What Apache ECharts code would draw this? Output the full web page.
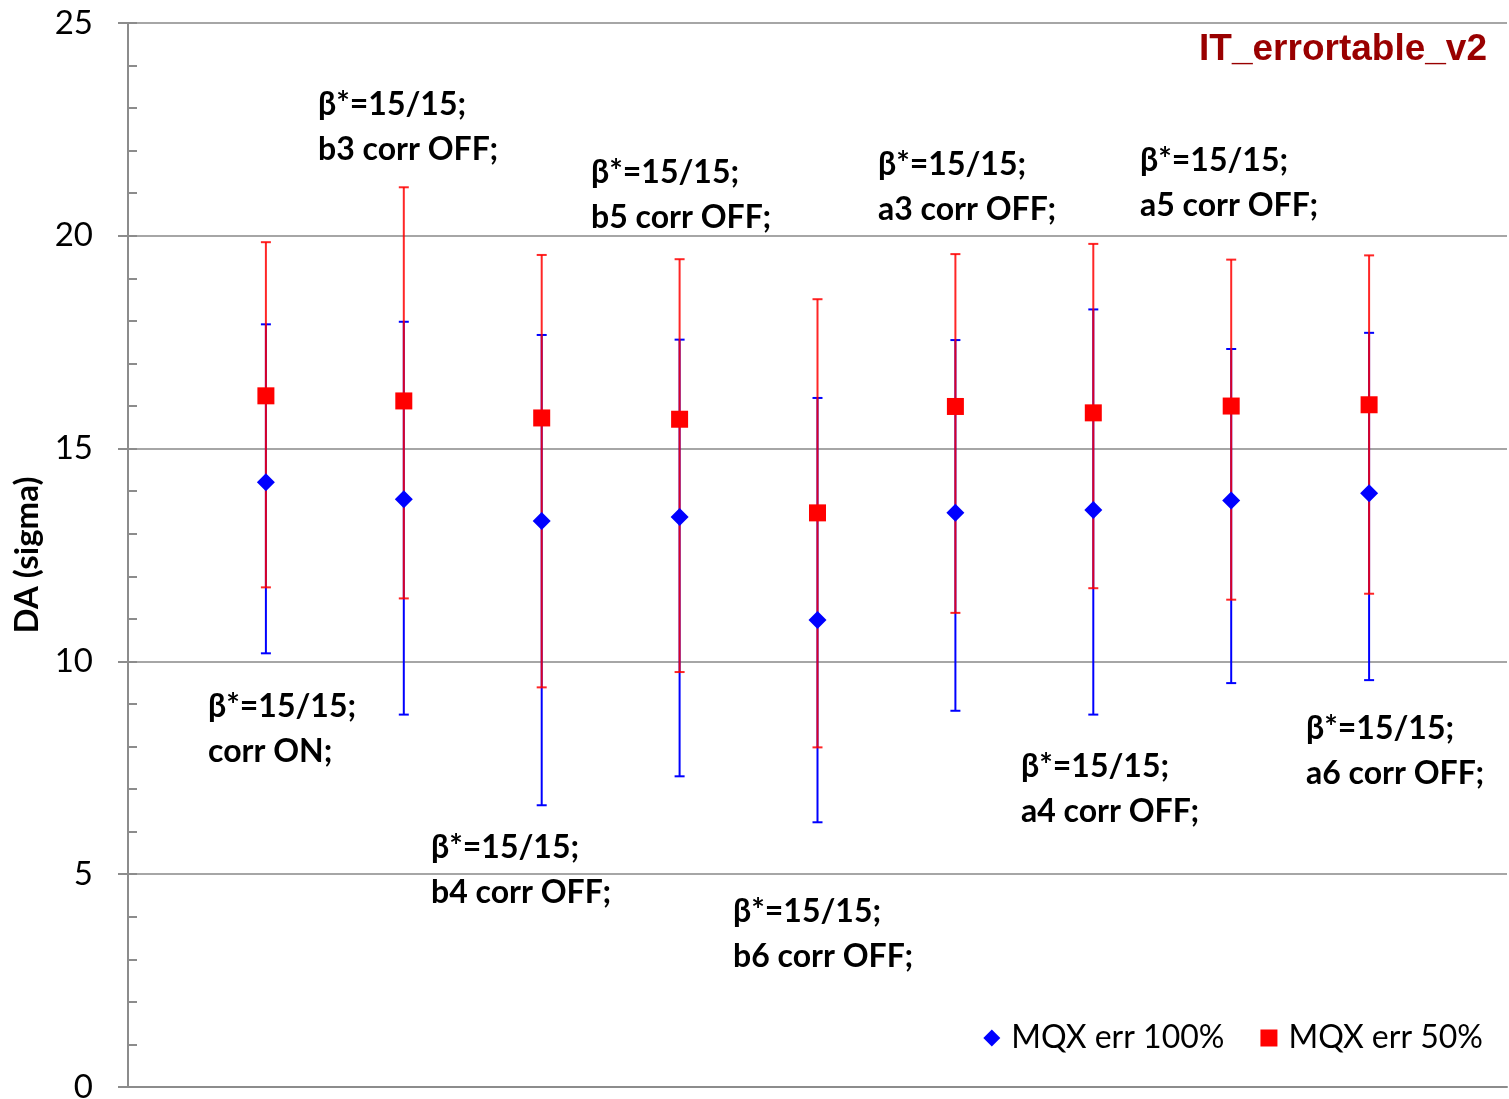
<!DOCTYPE html>
<html>
<head>
<meta charset="utf-8">
<title>IT_errortable_v2</title>
<script src="https://cdn.jsdelivr.net/npm/echarts@6/dist/echarts.min.js"></script>
<style>
  html, body { margin: 0; padding: 0; background: #fff; }
  #chart { width: 1509px; height: 1099px; }
</style>
</head>
<body>
<div id="chart"></div>
<script>
// case positions along the (hidden) x axis
const cases = [1, 2, 3, 4, 5, 6, 7, 8, 9]

// MQX err 100% (blue diamonds)
const err100 = [14.21, 13.81, 13.30, 13.39, 10.97, 13.49, 13.56, 13.78, 13.95]
const err100Lo = [10.19, 8.75, 6.62, 7.30, 6.22, 8.84, 8.75, 9.49, 9.56]
const err100Hi = [17.92, 17.98, 17.67, 17.56, 16.19, 17.55, 18.27, 17.34, 17.72]

// MQX err 50% (red squares)
const err50 = [16.24, 16.12, 15.72, 15.69, 13.49, 15.99, 15.84, 16.00, 16.03]
const err50Lo = [11.74, 11.48, 9.39, 9.75, 7.98, 11.14, 11.72, 11.45, 11.59]
const err50Hi = [19.85, 21.14, 19.55, 19.45, 18.51, 19.57, 19.81, 19.44, 19.54]

const yTicks = [0, 5, 10, 15, 20, 25]

const notes = [
  'β*=15/15;\ncorr ON;',
  'β*=15/15;\nb3 corr OFF;',
  'β*=15/15;\nb4 corr OFF;',
  'β*=15/15;\nb5 corr OFF;',
  'β*=15/15;\nb6 corr OFF;',
  'β*=15/15;\na3 corr OFF;',
  'β*=15/15;\na4 corr OFF;',
  'β*=15/15;\na5 corr OFF;',
  'β*=15/15;\na6 corr OFF;'
]
// where each note sits on the page (left, centre of first line)
const notePos = [
  [208, 707], [318, 105], [431, 848], [591, 173], [733, 912],
  [878, 165], [1021, 767], [1140, 161], [1306, 729]
]

const FONT = 'Lato, "Noto Sans", sans-serif'
const AXIS_COLOR = '#8c8c8c'
const GRID_COLOR = '#a6a6a6'

function errorBar(color, opacity) {
  return function (params, api) {
    const x = api.value(0)
    const lo = api.coord([x, api.value(1)])
    const hi = api.coord([x, api.value(2)])
    const w = 5
    const style = { stroke: color, lineWidth: 2, opacity: opacity }
    return {
      type: 'group',
      children: [
        { type: 'line', shape: { x1: lo[0], y1: lo[1], x2: hi[0], y2: hi[1] }, style: style },
        { type: 'line', shape: { x1: lo[0] - w, y1: lo[1], x2: lo[0] + w, y2: lo[1] }, style: style },
        { type: 'line', shape: { x1: hi[0] - w, y1: hi[1], x2: hi[0] + w, y2: hi[1] }, style: style }
      ]
    }
  }
}

const chart = echarts.init(document.getElementById('chart'))

const option = {
  animation: false,
  backgroundColor: '#fff',
  grid: { left: 128, right: 2, top: 23, bottom: 12, outerBoundsMode: 'none' },
  legend: {
    right: 21,
    top: 1017,
    itemGap: 36,
    itemWidth: 17,
    itemHeight: 17,
    textStyle: { fontFamily: FONT, fontSize: 32, color: '#000', padding: [0, 0, 0, 6] },
    data: [
      { name: 'MQX err 100%', icon: 'diamond' },
      { name: 'MQX err 50%', icon: 'rect' }
    ]
  },
  xAxis: {
    type: 'value',
    min: 0,
    max: 10,
    axisLine: { show: true, lineStyle: { color: AXIS_COLOR, width: 2 } },
    axisTick: { show: false },
    axisLabel: { show: false },
    splitLine: { show: false }
  },
  yAxis: [
    {
      type: 'value',
      min: yTicks[0],
      max: yTicks[yTicks.length - 1],
      interval: 5,
      name: 'DA (sigma)',
      nameLocation: 'middle',
      nameGap: 80,
      nameTextStyle: { fontFamily: FONT, fontSize: 33, fontWeight: 'bold', color: '#000' },
      axisLine: { show: true, lineStyle: { color: AXIS_COLOR, width: 2 } },
      axisTick: { show: true, inside: true, length: 9, lineStyle: { color: AXIS_COLOR, width: 2 } },
      minorTick: { show: true, splitNumber: 5, length: 9, lineStyle: { color: AXIS_COLOR, width: 2 } },
      axisLabel: { fontFamily: FONT, fontSize: 33, color: '#000', margin: 35 },
      splitLine: { show: true, lineStyle: { color: GRID_COLOR, width: 2 } }
    },
    {
      type: 'value',
      position: 'left',
      min: yTicks[0],
      max: yTicks[yTicks.length - 1],
      interval: 5,
      axisLine: { show: false },
      axisTick: { show: true, inside: false, length: 10, lineStyle: { color: AXIS_COLOR, width: 2 } },
      axisLabel: { show: false },
      splitLine: { show: false }
    }
  ],
  graphic: [
    {
      type: 'text',
      right: 22,
      top: 31,
      style: {
        text: 'IT_errortable_v2',
        fill: '#990000',
        font: 'bold 37px "Liberation Sans", Arial, sans-serif',
        shadowColor: 'rgba(0,0,0,0.35)',
        shadowBlur: 3,
        shadowOffsetX: 2,
        shadowOffsetY: 2
      }
    }
  ].concat(notes.map((t, i) => ({
    type: 'text',
    left: notePos[i][0],
    top: notePos[i][1] - 23,
    style: {
      text: t,
      fill: '#000',
      font: 'bold 32px ' + FONT,
      lineHeight: 45
    }
  }))),
  series: [
    {
      name: 'err100bars',
      type: 'custom',
      renderItem: errorBar('#0000ff', 1),
      data: cases.map((x, i) => [x, err100Lo[i], err100Hi[i]]),
      z: 1,
      silent: true
    },
    {
      name: 'err50bars',
      type: 'custom',
      renderItem: errorBar('#ff0000', 0.85),
      data: cases.map((x, i) => [x, err50Lo[i], err50Hi[i]]),
      z: 2,
      silent: true
    },
    {
      name: 'MQX err 100%',
      type: 'scatter',
      symbol: 'diamond',
      symbolSize: 18,
      itemStyle: { color: '#0000ff', opacity: 1 },
      data: cases.map((x, i) => [x, err100[i]]),
      z: 3
    },
    {
      name: 'MQX err 50%',
      type: 'scatter',
      symbol: 'rect',
      symbolSize: 17,
      itemStyle: { color: '#ff0000', opacity: 1 },
      data: cases.map((x, i) => [x, err50[i]]),
      z: 4
    }
  ]
}

chart.setOption(option)
</script>
</body>
</html>
